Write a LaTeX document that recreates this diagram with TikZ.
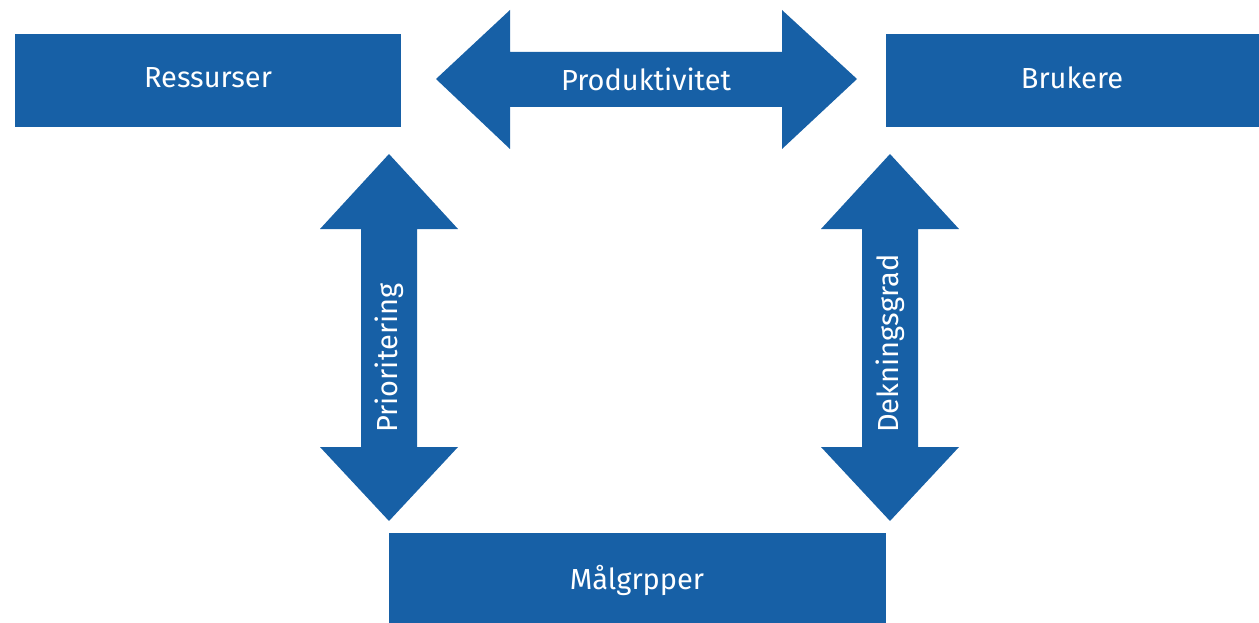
\documentclass[tikz,border=0pt]{standalone}
\usepackage{fontspec}
\setmainfont{Fira Sans}
\definecolor{dblue}{RGB}{23,96,166}
\begin{document}
\begin{tikzpicture}[x=1pt,y=-1pt,
  box/.style={fill=dblue,draw=none},
  lbl/.style={text=white,font=\fontsize{29}{34}\selectfont,inner sep=0pt},
  arr/.style={fill=dblue,draw=none}]
\useasboundingbox (0,0) rectangle (1259,623);
% boxes
\path[box] (15,34) rectangle (401,127);
\path[box] (886,34) rectangle (1259,127);
\path[box] (389,533) rectangle (886,623);
\node[lbl] (res) at (208,78) {Ressurser};
\node[lbl] (bru) at (1072,78) {Brukere};
\node[lbl] (mal) at (637,580) {Målgrpper};
% horizontal double arrow
\path[arr] (436,79) -- (510,10) -- (510,52) -- (782,52) -- (782,10) -- (857,79)
  -- (782,149) -- (782,107) -- (510,107) -- (510,149) -- cycle;
\node[lbl] (prod) at (646,79) {Produktivitet};
% left vertical arrow
\path[arr] (389,154) -- (458,229) -- (417,229) -- (417,447) -- (458,447) -- (389,521)
  -- (320,447) -- (361,447) -- (361,229) -- (320,229) -- cycle;
\node[lbl,rotate=90,anchor=west] (pri) at (389,433) {Prioritering};
% right vertical arrow
\path[arr] (890,154) -- (959,229) -- (918,229) -- (918,447) -- (959,447) -- (890,521)
  -- (821,447) -- (862,447) -- (862,229) -- (821,229) -- cycle;
\node[lbl,rotate=90,anchor=west] (dek) at (890,433) {Dekningsgrad};
\end{tikzpicture}
\end{document}
